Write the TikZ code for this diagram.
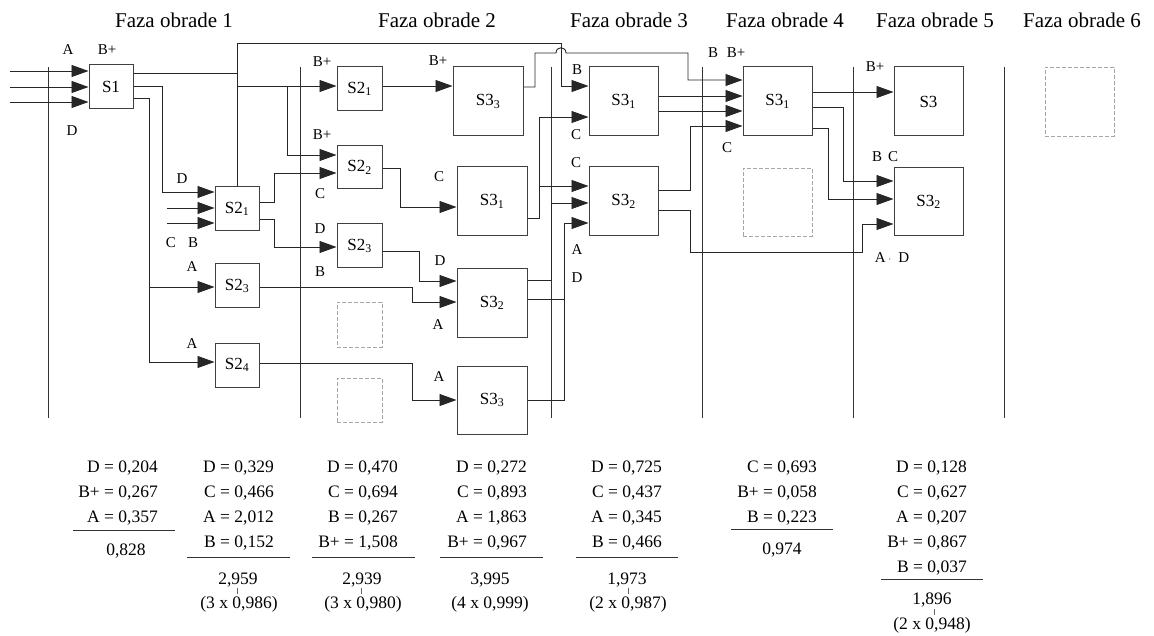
\documentclass[tikz,border=0pt]{standalone}
\usepackage{fontspec}
\setmainfont{Liberation Serif}
\usetikzlibrary{arrows.meta}
\newcommand{\Ssub}[2]{S#1\textsubscript{#2}}
\begin{document}
\begin{tikzpicture}[x=1pt,y=-1pt,
  wire/.style={line width=0.9pt, draw=black!85},
  arr/.style={wire, -{Triangle[length=17pt,width=12pt]}},
  sbox/.style={draw=black!75, line width=1pt, minimum width=44pt, minimum height=44pt, inner sep=0pt, font=\fontsize{17}{17}\selectfont},
  bbox/.style={sbox, minimum width=69pt, minimum height=69pt},
  dbox/.style={draw=black!35, dash pattern=on 4pt off 2pt, line width=0.8pt, inner sep=0pt},
  phase/.style={line width=0.9pt, draw=black!80},
  hdr/.style={font=\fontsize{21}{21}\selectfont, inner sep=0pt},
  lbl/.style={font=\fontsize{15}{15}\selectfont, inner sep=0pt},
  num/.style={font=\fontsize{17.5}{17.5}\selectfont, inner sep=0pt, anchor=base east},
  sumv/.style={font=\fontsize{17.5}{17.5}\selectfont, inner sep=0pt, anchor=base},
  rulel/.style={line width=0.9pt, draw=black!80},
  tickl/.style={line width=0.6pt, draw=black!60}
]
\path[use as bounding box] (0,0) rectangle (1154,636);

% headers
\node[hdr] (h1) at (174,20) {Faza obrade 1};
\node[hdr] (h2) at (437,20) {Faza obrade 2};
\node[hdr] (h3) at (629,20) {Faza obrade 3};
\node[hdr] (h4) at (785,20) {Faza obrade 4};
\node[hdr] (h5) at (935,20) {Faza obrade 5};
\node[hdr] (h6) at (1082,20) {Faza obrade 6};

% phase lines
\foreach \px in {48,300,551,702,853,1004}{\draw[phase] (\px,67) -- (\px,418);}

% boxes
\node[sbox] (S1) at (111,87) {S1};
\node[sbox] (Sa1) at (237,209) {\Ssub{2}{1}};
\node[sbox] (Sa3) at (237,286) {\Ssub{2}{3}};
\node[sbox] (Sa4) at (237,365) {\Ssub{2}{4}};
\node[sbox, minimum width=45pt] (Sb1) at (359.5,89) {\Ssub{2}{1}};
\node[sbox, minimum width=45pt, minimum height=43pt] (Sb2) at (359.5,167.5) {\Ssub{2}{2}};
\node[sbox, minimum width=45pt] (Sb3) at (359.5,246) {\Ssub{2}{3}};
\node[dbox, minimum width=45pt, minimum height=45pt] (Db1) at (359.5,324.5) {};
\node[dbox, minimum width=45pt, minimum height=44pt] (Db2) at (359.5,400) {};
\node[bbox, minimum width=70pt] (Tc3) at (488,101.5) {\Ssub{3}{3}};
\node[bbox, minimum width=70pt] (Tc1) at (492,201.5) {\Ssub{3}{1}};
\node[bbox, minimum width=70pt] (Tc2) at (492,303) {\Ssub{3}{2}};
\node[bbox, minimum width=70pt, minimum height=68pt] (Tc3b) at (492,400) {\Ssub{3}{3}};
\node[bbox] (Td1) at (623.5,101.5) {\Ssub{3}{1}};
\node[bbox] (Td2) at (623.5,201.5) {\Ssub{3}{2}};
\node[bbox] (Te1) at (777.5,101.5) {\Ssub{3}{1}};
\node[dbox, minimum width=69pt, minimum height=68pt] (De) at (777.5,202) {};
\node[bbox] (Tf) at (928.5,101.5) {S3};
\node[bbox, minimum height=68pt] (Tf2) at (928.5,202) {\Ssub{3}{2}};
\node[dbox, minimum width=69pt, minimum height=69pt] (Dg) at (1079.5,101.5) {};

% free ends
\coordinate (i1) at (10,71);
\coordinate (i2) at (10,87);
\coordinate (i3) at (10,102);
\coordinate (i4) at (167,208);
\coordinate (i5) at (167,223);
\coordinate (j1) at (237,73);
\coordinate (j2) at (237,86);
\coordinate (j3) at (287,86);
\coordinate (j4) at (149,287);
\coordinate (j5) at (539,186);
\coordinate (j6) at (564,299);

% inputs of S1
\draw[arr] (i1) -- (S1.west|-i1);
\draw[arr] (i2) -- (S1.west|-i2);
\draw[arr] (i3) -- (S1.west|-i3);

% S1 outputs
\draw[wire] (S1.east|-j1) -- (j1);
\draw[arr] (Sa1.north) -- (237,43) -| (561,86) -- (Td1.west|-0,86);
\draw[arr] (j2) -- (Sb1.west|-j2);
\draw[arr] (j3) |- (Sb2.west|-0,155);
\draw[arr] (S1.east|-0,86) -| (162,192) -- (Sa1.west|-0,192);
\draw[arr] (i4) -- (Sa1.west|-i4);
\draw[arr] (i5) -- (Sa1.west|-i5);
\draw[arr] (S1.east|-0,98) -| (149,362) -- (Sa4.west|-0,362);
\draw[arr] (j4) -- (Sa3.west|-j4);

% phase 1 -> 2
\draw[arr] (Sa1.east|-0,202) -| (274,173) -- (Sb2.west|-0,173);
\draw[arr] (Sa1.east|-0,219) -| (274,247) -- (Sb3.west|-0,247);

% phase 2 internal
\draw[arr] (Sb1.east|-0,86) -- (Tc3.west|-0,86);
\draw[arr] (Sb2.east|-0,168) -| (400,207) -- (Tc1.west|-0,207);
\draw[arr] (Sb3.east|-0,251) -| (419,281) -- (Tc2.west|-0,281);
\draw[arr] (Sa3.east|-0,287) -| (412,302) -- (Tc2.west|-0,302);
\draw[arr] (Sa4.east|-0,363) -| (412,400) -- (Tc3b.west|-0,400);

% phase 2 -> 3 / 4
\draw[arr] (Tc3.east|-0,87) -| (535,53) -- (556,53) .. controls (556,46) and (566,46) .. (566,53) -| (688,80) -- (Te1.west|-0,80);
\draw[arr] (Tc1.east|-0,218) -| (539,117) -- (Td1.west|-0,117);
\draw[arr] (j5) -- (Td2.west|-j5);
\draw[arr] (Tc2.east|-0,280) -| (551,203) -- (Td2.west|-0,203);
\draw[wire] (Tc2.east|-j6) -- (j6);
\draw[arr] (Tc3b.east|-0,400) -| (564,223) -- (Td2.west|-0,223);

% phase 3 -> 4 / 5
\draw[arr] (Td1.east|-0,96) -- (Te1.west|-0,96);
\draw[arr] (Td1.east|-0,111) -- (Te1.west|-0,111);
\draw[arr] (Td2.east|-0,190) -| (690,126) -- (Te1.west|-0,126);
\draw[arr] (Td2.east|-0,210) -| (690,252) -| (862,224) -- (Tf2.west|-0,224);

% phase 4 -> 5
\draw[arr] (Te1.east|-0,92) -- (Tf.west|-0,92);
\draw[arr] (Te1.east|-0,107) -| (843,181) -- (Tf2.west|-0,181);
\draw[arr] (Te1.east|-0,128) -| (828,199) -- (Tf2.west|-0,199);

% small labels
\node[lbl] (la1) at (68,50) {A};
\node[lbl] (la2) at (107,50) {B+};
\node[lbl] (la3) at (72,131) {D};
\node[lbl] (la4) at (182,179) {D};
\node[lbl] (la5) at (171,243) {C};
\node[lbl] (la6) at (193,243) {B};
\node[lbl] (la7) at (192,267) {A};
\node[lbl] (la8) at (192,344) {A};
\node[lbl] (lb1) at (322,62) {B+};
\node[lbl] (lb2) at (322,135) {B+};
\node[lbl] (lb3) at (320,194) {C};
\node[lbl] (lb4) at (320,229) {D};
\node[lbl] (lb5) at (320,272) {B};
\node[lbl] (lc1) at (438,61) {B+};
\node[lbl] (lc2) at (439,177) {C};
\node[lbl] (lc3) at (440,261) {D};
\node[lbl] (lc4) at (438,325) {A};
\node[lbl] (lc5) at (439,377) {A};
\node[lbl] (ld1) at (577,70) {B};
\node[lbl] (ld2) at (576,135) {C};
\node[lbl] (ld3) at (576,163) {C};
\node[lbl] (ld4) at (577,250) {A};
\node[lbl] (ld5) at (577,278) {D};
\node[lbl] (le1) at (713,53) {B};
\node[lbl] (le2) at (736,53) {B+};
\node[lbl] (le3) at (727,148) {C};
\node[lbl] (lf1) at (875,67) {B+};
\node[lbl] (lf2) at (877,157) {B};
\node[lbl] (lf3) at (893,157) {C};
\node[lbl] (lf4) at (892,258) {A\,{\fontsize{9}{9}\selectfont ·}\hspace{7pt}D};

% column 1
\node[num] (n11) at (158,472) {D = 0,204};
\node[num] (n12) at (158,497) {B+ = 0,267};
\node[num] (n13) at (158,522) {A = 0,357};
\draw[rulel] (73,530) -- (175,530);
\node[sumv] (s1) at (126,555) {0,828};
% column 2
\node[num] (n21) at (274,472) {D = 0,329};
\node[num] (n22) at (274,497) {C = 0,466};
\node[num] (n23) at (274,522) {A = 2,012};
\node[num] (n24) at (274,547) {B = 0,152};
\draw[rulel] (187,557) -- (290,557);
\node[sumv] (s2) at (238,584) {2,959};
\draw[tickl] (237,588) -- (237,594);
\node[sumv] (p2) at (239,608) {(3 x 0,986)};
% column 3
\node[num] (n31) at (398,472) {D = 0,470};
\node[num] (n32) at (398,497) {C = 0,694};
\node[num] (n33) at (398,522) {B = 0,267};
\node[num] (n34) at (398,547) {B+ = 1,508};
\draw[rulel] (312,557) -- (415,557);
\node[sumv] (s3) at (362,584) {2,939};
\draw[tickl] (361,588) -- (361,594);
\node[sumv] (p3) at (363,608) {(3 x 0,980)};
% column 4
\node[num] (n41) at (527,472) {D = 0,272};
\node[num] (n42) at (527,497) {C = 0,893};
\node[num] (n43) at (527,522) {A = 1,863};
\node[num] (n44) at (527,547) {B+ = 0,967};
\draw[rulel] (440,557) -- (543,557);
\node[sumv] (s4) at (490,584) {3,995};
\node[sumv] (p4) at (490,608) {(4 x 0,999)};
% column 5
\node[num] (n51) at (662,472) {D = 0,725};
\node[num] (n52) at (662,497) {C = 0,437};
\node[num] (n53) at (662,522) {A = 0,345};
\node[num] (n54) at (662,547) {B = 0,466};
\draw[rulel] (576,557) -- (678,557);
\node[sumv] (s5) at (627,584) {1,973};
\draw[tickl] (628,588) -- (628,594);
\node[sumv] (p5) at (628,608) {(2 x 0,987)};
% column 6
\node[num] (n61) at (817,472) {C = 0,693};
\node[num] (n62) at (817,497) {B+ = 0,058};
\node[num] (n63) at (817,522) {B = 0,223};
\draw[rulel] (731,529) -- (833,529);
\node[sumv] (s6) at (782,554) {0,974};
% column 7
\node[num] (n71) at (967,472) {D = 0,128};
\node[num] (n72) at (967,497) {C = 0,627};
\node[num] (n73) at (967,522) {A = 0,207};
\node[num] (n74) at (967,547) {B+ = 0,867};
\node[num] (n75) at (967,572) {B = 0,037};
\draw[rulel] (881,579) -- (983,579);
\node[sumv] (s7) at (932,604) {1,896};
\draw[tickl] (934,609) -- (934,615);
\node[sumv] (p7) at (932,629) {(2 x 0,948)};
\end{tikzpicture}
\end{document}
